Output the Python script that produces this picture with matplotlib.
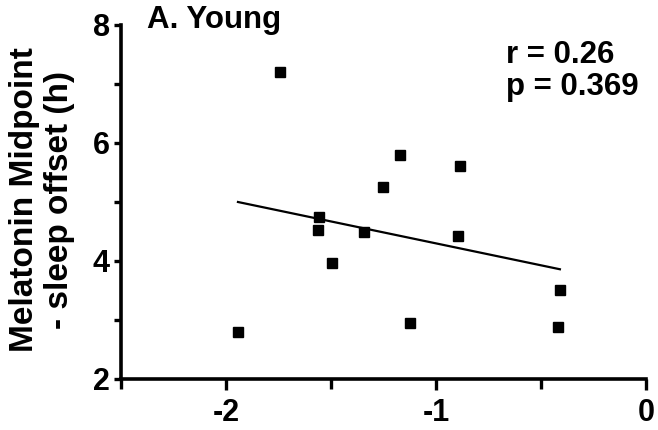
import matplotlib
matplotlib.use("Agg")
import matplotlib.pyplot as plt
from matplotlib.ticker import MultipleLocator

plt.rcParams['font.family'] = ['Liberation Sans', 'DejaVu Sans']
plt.rcParams['font.weight'] = 'bold'
plt.rcParams['axes.unicode_minus'] = False

# values
phase_diff = [-1.743, -1.171, -0.886, -1.252, -1.557, -1.562, -1.343,
              -1.495, -1.943, -0.895, -0.410, -1.124, -0.419]
mid_offset = [7.20, 5.80, 5.61, 5.25, 4.75, 4.53, 4.49,
              3.97, 2.80, 4.42, 3.51, 2.95, 2.88]

# regression line ends
fit_x = [-1.943, -0.410]
fit_y = [5.00, 3.86]

title = "A. Young"
r_text = "r = 0.26"
p_text = "p = 0.369"
ylabel = "Melatonin Midpoint\n- sleep offset (h)"

fig = plt.figure(figsize=(6.58, 4.30), dpi=100)
ax = fig.add_axes([121 / 658, 1 - 379 / 430, (646 - 121) / 658, (379 - 25) / 430])

ax.plot(phase_diff, mid_offset, linestyle='none', marker='s', ms=7,
        color='black', clip_on=False)
ax.plot(fit_x, fit_y, color='black', lw=1.6)

ax.set_xlim(-2.5, 0)
ax.set_ylim(2, 8)
ax.xaxis.set_major_locator(MultipleLocator(1))
ax.xaxis.set_minor_locator(MultipleLocator(0.5))
ax.yaxis.set_major_locator(MultipleLocator(2))
ax.yaxis.set_minor_locator(MultipleLocator(1))

for side in ['top', 'right']:
    ax.spines[side].set_visible(False)
for side in ['left', 'bottom']:
    ax.spines[side].set_linewidth(2.6)

ax.tick_params(axis='x', which='major', length=8, width=2.4, pad=6, labelsize=22)
ax.tick_params(axis='x', which='minor', length=7, width=2.4)
ax.tick_params(axis='y', which='major', length=5, width=2.4, pad=3, labelsize=22)
ax.tick_params(axis='y', which='minor', length=5, width=2.4)
for lab in ax.get_xticklabels() + ax.get_yticklabels():
    lab.set_fontweight('bold')

# y label placed by hand so both lines sit where they do in the reference
fig.text(42 / 658, 1 - 200 / 430, ylabel, fontsize=24, fontweight='bold',
         rotation=90, ha='center', va='center', linespacing=1.2,
         multialignment='center')

fig.text(147 / 658, 1 - 28 / 430, title, fontsize=22.5, fontweight='bold',
         ha='left', va='baseline')
fig.text(506 / 658, 1 - 63 / 430, r_text, fontsize=22.5, fontweight='bold',
         ha='left', va='baseline')
fig.text(506 / 658, 1 - 95 / 430, p_text, fontsize=22.5, fontweight='bold',
         ha='left', va='baseline')

fig.savefig("out.png", dpi=100)
